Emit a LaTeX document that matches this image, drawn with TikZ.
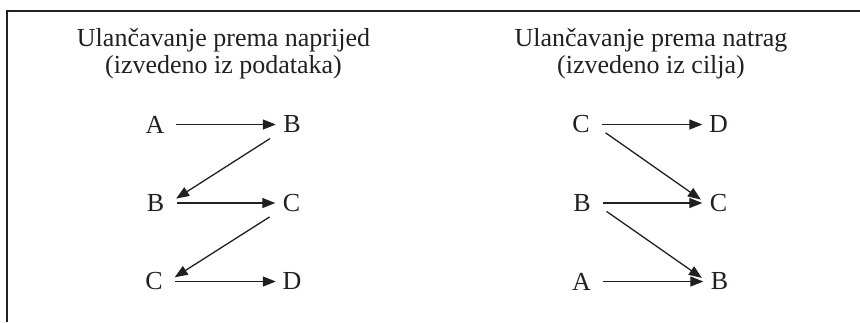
\documentclass[tikz,border=0pt]{standalone}
\usepackage{fontspec}
\setmainfont{Liberation Serif}
\usepackage{xcolor}
\usepackage{tikz}
\usetikzlibrary{arrows.meta}
\definecolor{ink}{HTML}{231F20}
\tikzset{
  rule/.style={draw=ink, line width=2pt},
  arr/.style={draw=ink, line width=1.3pt, -{Triangle[length=13pt,width=10pt]}},
  flat/.style={arr, shorten <=11pt, shorten >=6pt},
  lab/.style={text=ink, font=\fontsize{26}{26.5}\selectfont, inner sep=0pt, minimum width=20pt},
  ttl/.style={text=ink, font=\fontsize{26}{26.5}\selectfont, align=center, anchor=base, inner sep=0pt},
}

\begin{document}
\begin{tikzpicture}[x=1pt,y=-1pt]
  \useasboundingbox (0,0) rectangle (860,322);
  \draw[rule] (7,322) -- (7,10.5) -- (860,10.5);
  \node[ttl] (fwdT) at (223.5,73) {Ulančavanje prema naprijed\\(izvedeno iz podataka)};
  \node[ttl] (bwdT) at (651,73) {Ulančavanje prema natrag\\(izvedeno iz cilja)};
  % forward chaining
  \foreach \n/\x/\y/\t in {fA/155/124.5/A, fB/292/124.5/B, fB2/155.5/203/B,
                           fC/291.5/203/C, fC2/154/281.5/C, fD/292/281.5/D}
    \node[lab] (\n) at (\x,\y) {\t};
  % backward chaining
  \foreach \n/\x/\y/\t in {bC/581/124.5/C, bD/718.5/124.5/D, bB/582/203/B,
                           bC2/718.5/203/C, bA/581.5/281.5/A, bB2/719.5/281.5/B}
    \node[lab] (\n) at (\x,\y) {\t};
  \foreach \a/\b in {fA/fB, fB2/fC, fC2/fD, bC/bD, bB/bC2, bA/bB2}
    \draw[flat] (\a.east) -- (\b.west);
  \draw[arr, shorten <=26pt, shorten >=24.5pt] (fB.center) -- (fB2.south);
  \draw[arr, shorten <=26pt, shorten >=24.5pt] (fC.center) -- (fC2.south);
  \draw[arr, shorten <=30pt, shorten >=21.5pt] (bC.north) -- (bC2.south);
  \draw[arr, shorten <=30pt, shorten >=21.5pt] (bB.north) -- (bB2.south);
\end{tikzpicture}
\end{document}
